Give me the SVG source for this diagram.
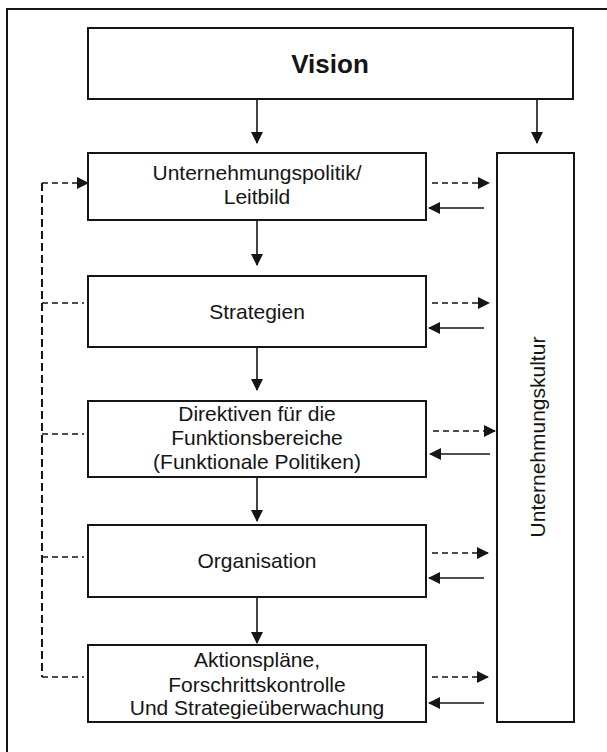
<svg xmlns="http://www.w3.org/2000/svg" width="607" height="752" viewBox="0 0 607 752">
<style>
  .box { fill: #fff; stroke: #151515; stroke-width: 2; }
  .t { font-family: "Liberation Sans", Arial, sans-serif; font-size: 21px; fill: #151515; text-anchor: middle; }
  .tb { font-family: "Liberation Sans", Arial, sans-serif; font-size: 26px; font-weight: bold; fill: #151515; text-anchor: middle; }
  .solid { stroke: #151515; stroke-width: 1.6; fill: none; }
  .dash { stroke: #151515; stroke-width: 1.6; fill: none; stroke-dasharray: 6 4; }
  .vdash { stroke: #151515; stroke-width: 2; fill: none; stroke-dasharray: 8 4; }
</style>
<defs>
  <marker id="ah" viewBox="0 0 12 12" refX="11" refY="6" markerWidth="12" markerHeight="12" markerUnits="userSpaceOnUse" orient="auto">
    <path d="M0,0 L12,6 L0,12 z" fill="#151515"/>
  </marker>
</defs>
<rect width="607" height="752" fill="#fff"/>
<rect x="7" y="9" width="620" height="760" fill="none" stroke="#151515" stroke-width="2"/>

<g id="vision">
  <rect class="box" x="88" y="28" width="485" height="71"/>
  <text class="tb" x="330" y="73">Vision</text>
</g>
<g id="politik">
  <rect class="box" x="88" y="153" width="338" height="67"/>
  <text class="t" x="257" y="180">Unternehmungspolitik/</text>
  <text class="t" x="257" y="204">Leitbild</text>
</g>
<g id="strategien">
  <rect class="box" x="88" y="276" width="338" height="71"/>
  <text class="t" x="257" y="319">Strategien</text>
</g>
<g id="direktiven">
  <rect class="box" x="88" y="401" width="338" height="76"/>
  <text class="t" x="257" y="421">Direktiven für die</text>
  <text class="t" x="257" y="445">Funktionsbereiche</text>
  <text class="t" x="257" y="469">(Funktionale Politiken)</text>
</g>
<g id="organisation">
  <rect class="box" x="88" y="525" width="338" height="72"/>
  <text class="t" x="257" y="568">Organisation</text>
</g>
<g id="aktion">
  <rect class="box" x="88" y="645" width="338" height="77"/>
  <text class="t" x="257" y="667">Aktionspläne,</text>
  <text class="t" x="257" y="692">Forschrittskontrolle</text>
  <text class="t" x="257" y="715">Und Strategieüberwachung</text>
</g>
<g id="kultur">
  <rect class="box" x="497" y="153" width="77" height="569"/>
  <text class="t" transform="translate(545,437) rotate(-90)">Unternehmungskultur</text>
</g>

<g id="connectors">
  <!-- vertical flow -->
  <line class="solid" x1="257" y1="99" x2="257" y2="143" marker-end="url(#ah)"/>
  <line class="solid" x1="537" y1="99" x2="537" y2="143" marker-end="url(#ah)"/>
  <line class="solid" x1="257" y1="220" x2="257" y2="265" marker-end="url(#ah)"/>
  <line class="solid" x1="257" y1="347" x2="257" y2="390" marker-end="url(#ah)"/>
  <line class="solid" x1="257" y1="477" x2="257" y2="521" marker-end="url(#ah)"/>
  <line class="solid" x1="257" y1="597" x2="257" y2="643" marker-end="url(#ah)"/>

  <!-- left feedback dashed -->
  <line class="vdash" x1="42" y1="183" x2="42" y2="677"/>
  <line class="dash" x1="42" y1="183" x2="88" y2="183" marker-end="url(#ah)"/>
  <line class="dash" x1="42" y1="303" x2="84" y2="303"/>
  <line class="dash" x1="42" y1="434" x2="84" y2="434"/>
  <line class="dash" x1="42" y1="557" x2="84" y2="557"/>
  <line class="dash" x1="42" y1="677" x2="84" y2="677"/>

  <!-- right: to culture (dashed) and back (solid) -->
  <line class="dash" x1="432" y1="183" x2="489" y2="183" marker-end="url(#ah)"/>
  <line class="solid" x1="484" y1="208" x2="429" y2="208" marker-end="url(#ah)"/>
  <line class="dash" x1="432" y1="303" x2="489" y2="303" marker-end="url(#ah)"/>
  <line class="solid" x1="484" y1="328" x2="429" y2="328" marker-end="url(#ah)"/>
  <line class="dash" x1="433" y1="431" x2="495" y2="431" marker-end="url(#ah)"/>
  <line class="solid" x1="490" y1="454" x2="430" y2="454" marker-end="url(#ah)"/>
  <line class="dash" x1="432" y1="553" x2="488" y2="553" marker-end="url(#ah)"/>
  <line class="solid" x1="484" y1="578" x2="429" y2="578" marker-end="url(#ah)"/>
  <line class="dash" x1="432" y1="677" x2="488" y2="677" marker-end="url(#ah)"/>
  <line class="solid" x1="484" y1="703" x2="429" y2="703" marker-end="url(#ah)"/>
</g>
</svg>
